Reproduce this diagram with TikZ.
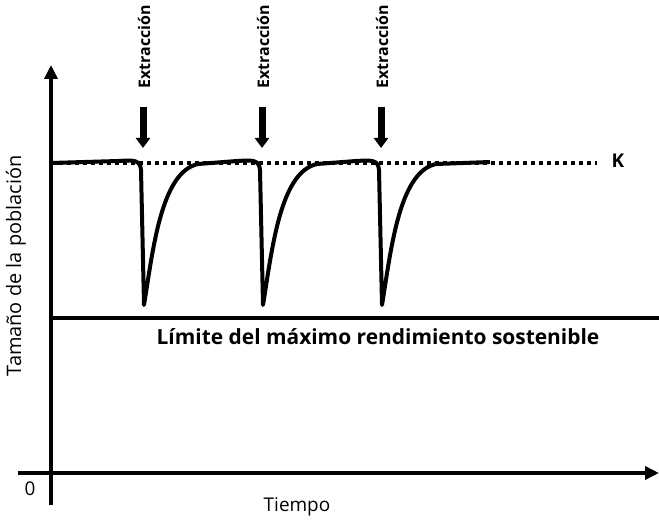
\documentclass[tikz,border=0pt]{standalone}
\usepackage{fontspec}
\setmainfont{Open Sans}
\usetikzlibrary{arrows.meta}

\begin{document}
\begin{tikzpicture}[x=1bp,y=-1bp]

        \useasboundingbox (0,0) rectangle (659,520);

        % ejes
        \coordinate (o)  at (51,473);
        \coordinate (yb) at (51,505);
        \coordinate (yt) at (51,65);
        \coordinate (xl) at (18,473);
        \coordinate (xr) at (659,473);

        \begin{scope}[line width=3.5bp, -{Triangle[width=13bp,length=14bp]}]
          \draw (yb) -- (yt);
          \draw (xl) -- (xr);
        \end{scope}

        % K y limite
        \coordinate (k0) at (51,163);
        \coordinate (k1) at (597,163);
        \coordinate (m0) at (51,318);
        \coordinate (m1) at (659,318);

        \draw[line width=4bp, dash pattern=on 4bp off 4bp] (k0) -- (k1);
        \draw[line width=3.5bp] (m0) -- (m1);

        \begin{scope}[every node/.style={font=\bfseries}]
          \node[font=\fontsize{19}{22}\bfseries\selectfont] (K) at (618,161) {K};
          \node[font=\fontsize{21}{24}\bfseries\selectfont] (lim) at (378,337) {Límite del máximo rendimiento sostenible};
        \end{scope}

        \begin{scope}[every node/.style={font=\fontsize{19}{22}\selectfont}]
          \node (cero) at (30,489) {0};
          \node (tiempo) at (297,507) {Tiempo};
          \node[rotate=90, font=\fontsize{20}{22}\selectfont] (tam) at (16,266) {Tamaño de la población};
        \end{scope}

        % extracciones
        \foreach \x [count=\i] in {143,262,381} {
          \node[rotate=90, font=\fontsize{16}{18}\bfseries\selectfont] (ext\i) at (\x+1,47) {Extracción};
          \coordinate (a\i) at (\x,107);
          \coordinate (b\i) at (\x,148);
          \draw[line width=7bp, -{Triangle[width=14bp,length=10bp]}] (a\i) -- (b\i);
        }

        % poblacion
        \draw[line width=4bp, line join=round] (k0)
          foreach \x in {143,262,381} {
            -- (\x-25,161) .. controls (\x-8,160) and (\x-3,160) .. (\x-2,170)
            -- (\x+1,305) .. controls (\x+10,250) and (\x+18,172) .. (\x+55,164)
          } -- (490,162);

\end{tikzpicture}
\end{document}
